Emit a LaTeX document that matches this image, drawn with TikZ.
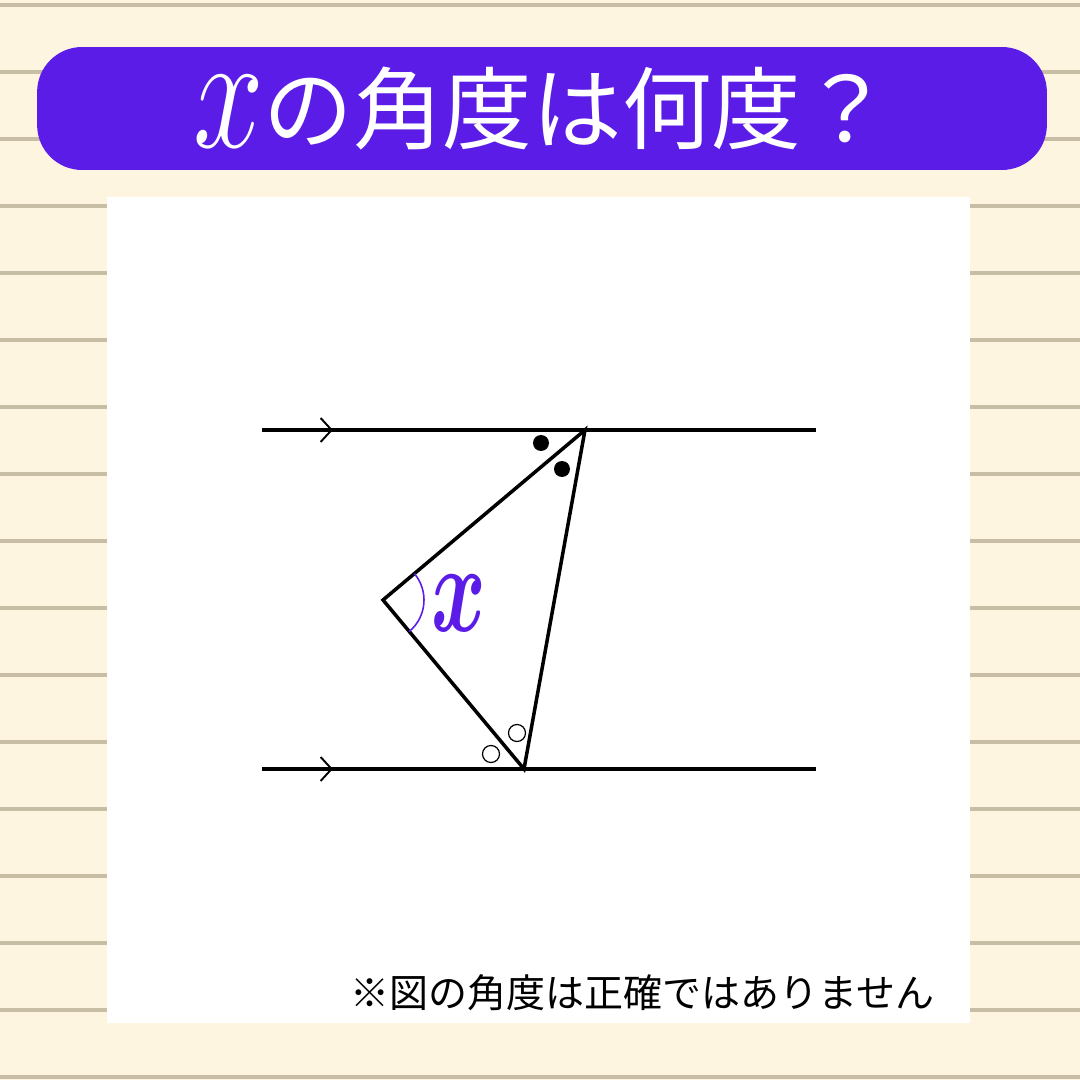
\documentclass[tikz,border=0pt]{standalone}
\usepackage{fontspec}
\newfontfamily\jpfont{Noto Sans CJK JP}
\usetikzlibrary{arrows.meta, decorations.markings}
\definecolor{creamBG}{HTML}{FEF5E0}
\definecolor{stripeGray}{HTML}{C8BEA6}
\definecolor{quizPurple}{HTML}{5B1CE8}
\tikzset{>=latex,
  titleBox/.style={shape=rectangle, fill=quizPurple, rounded corners=0.9cm, minimum width=20.2cm, minimum height=2.46cm, text=white, inner sep=0pt},
  parLine/.style={draw=black, line width=2pt, postaction={decorate},
    decoration={markings, mark=at position 0.128 with {\arrow{Straight Barb[length=2.2mm, width=4.8mm, line width=1.1pt]}}}},
  triLine/.style={draw=black, line width=2pt, line join=miter},
  angleArc/.style={draw=quizPurple, line width=0.9pt},
  dotFILLED/.style={circle, fill=black, inner sep=0pt, minimum size=0.32cm},
  dotOPEN/.style={circle, draw=black, line width=0.7pt, inner sep=0pt, minimum size=0.34cm},
  angleLabel/.style={text=quizPurple, inner sep=0pt},
  noteText/.style={anchor=west, inner sep=0pt, font=\jpfont\fontsize{22.2pt}{25pt}\selectfont}
}

\begin{document}
\begin{tikzpicture}[x=0.02cm, y=0.02cm]
  \useasboundingbox (0,0) rectangle (1080,1080);
  \fill[creamBG] (0,0) rectangle (1080,1080);
  \foreach \k in {0,...,16}
    \fill[stripeGray] (0,{1073-67*\k}) rectangle (1080,{1077-67*\k});

  \node[titleBox] (title) at (542,971.5)
    {\jpfont\fontsize{51pt}{54pt}\selectfont\raisebox{-3pt}{\scalebox{2.9}[3.8]{\Huge$x$}}の角度は何度？};

  \fill[white] (107,57) rectangle (970,883);

  \coordinate (tL) at (262,650);
  \coordinate (tR) at (816,650);
  \coordinate (bL) at (262,311);
  \coordinate (bR) at (816,311);
  \coordinate (A) at (585,650);
  \coordinate (B) at (383,480);
  \coordinate (C) at (524,311);

  \draw[parLine] (tL) -- (tR);
  \draw[parLine] (bL) -- (bR);
  \draw[triLine] (A) -- (B) -- (C) -- cycle;

  \draw[angleArc] ([shift={(-50:41)}]B) arc[start angle=-50, end angle=40, radius=41];
  \node[angleLabel] (xLbl) at (459,477) {\scalebox{1.9}[2.9]{\Huge\boldmath$x$}};

  \node[dotFILLED] (d1) at (541,637) {};
  \node[dotFILLED] (d2) at (562,611) {};
  \node[dotOPEN] (o1) at (491,326) {};
  \node[dotOPEN] (o2) at (517,347) {};

  \node[noteText] (note) at (350,87) {※図の角度は正確ではありません};
\end{tikzpicture}
\end{document}
